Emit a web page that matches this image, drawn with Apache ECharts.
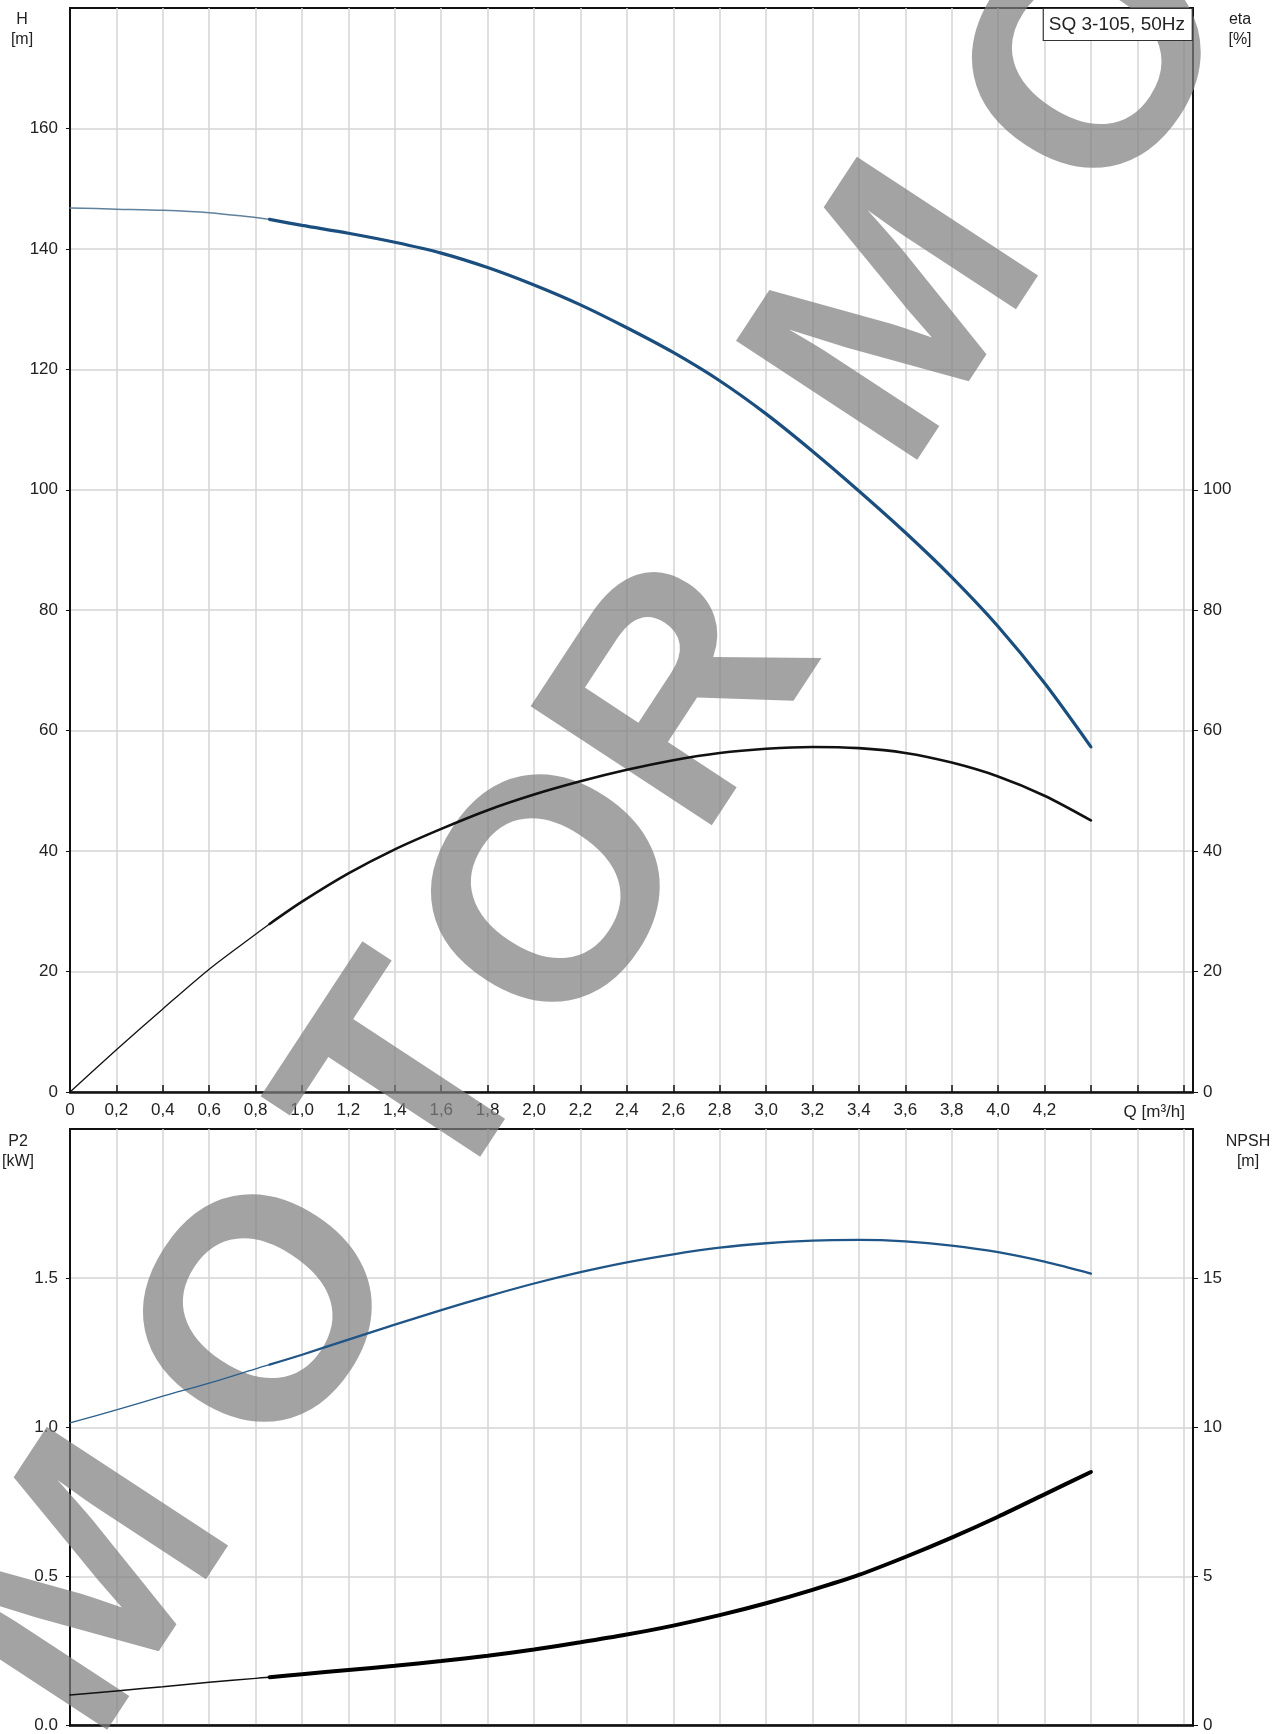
<!DOCTYPE html>
<html><head><meta charset="utf-8">
<script src="https://cdn.jsdelivr.net/npm/echarts@6/dist/echarts.min.js"></script>
<style>html,body{margin:0;padding:0;background:#fff}#c{width:1288px;height:1734px}</style>
</head><body><div id="c"></div>
<script>
// Flow rate Q [m3/h]
const flowQ  = [0, 0.2, 0.4, 0.6, 0.8, 0.86, 1.0, 1.2, 1.4, 1.6, 1.8, 2.0, 2.2, 2.4, 2.6, 2.8, 3.0, 3.2, 3.4, 3.6, 3.8, 4.0, 4.2, 4.4];
// Head H [m]
const headH  = [146.8, 146.6, 146.4, 146.0, 145.2, 144.9, 143.9, 142.6, 141.1, 139.3, 136.9, 134.0, 130.7, 126.9, 122.8, 118.1, 112.6, 106.4, 99.8, 92.9, 85.5, 77.3, 67.9, 57.3];
// Efficiency eta [%]
const effEta = [0, 7.0, 13.8, 20.4, 26.2, 27.9, 31.6, 36.3, 40.3, 43.7, 46.8, 49.4, 51.6, 53.5, 55.1, 56.3, 57.0, 57.3, 57.1, 56.3, 54.7, 52.4, 49.2, 45.1];
// Power P2 [kW]
const powerP2 = [1.015, 1.058, 1.104, 1.148, 1.196, 1.21, 1.243, 1.294, 1.344, 1.393, 1.439, 1.482, 1.52, 1.553, 1.58, 1.602, 1.617, 1.626, 1.628, 1.623, 1.609, 1.587, 1.555, 1.515];
// NPSH [m]
const npshM  = [1.02, 1.16, 1.3, 1.45, 1.58, 1.62, 1.72, 1.86, 2.0, 2.16, 2.34, 2.55, 2.79, 3.05, 3.35, 3.7, 4.1, 4.55, 5.05, 5.65, 6.3, 7.0, 7.75, 8.5];
// start of the recommended duty range (thick part of curves)
const splitQ = 0.86;
// axis tick labels
const hTicks   = [0, 20, 40, 60, 80, 100, 120, 140, 160];
const etaTicks = [0, 20, 40, 60, 80, 100];
const p2Ticks  = [0, 0.5, 1.0, 1.5];
const npshTicks = [0, 5, 10, 15];
const modelName = 'SQ 3-105, 50Hz';
// watermark text
const watermarkLetters = ['M', 'O', 'T', 'O', 'R', 'M', 'O'];

const FONT = '"Liberation Sans", Arial, sans-serif';
const TXT = '#222';
const GRIDC = '#d5d5d5';

function part(ys, which) {
  return flowQ.map((q, i) => [q, ys[i]]).filter(p => which === 'thin' ? p[0] <= splitQ : p[0] >= splitQ);
}
function lineSeries(name, ys, which, xi, yi, color, width) {
  return {
    name: name, type: 'line', xAxisIndex: xi, yAxisIndex: yi, data: part(ys, which),
    smooth: 0.3, showSymbol: false, symbol: 'none', z: 5,
    lineStyle: { color: color, width: width, cap: 'round' }
  };
}

const chart = echarts.init(document.getElementById('c'));
const xLabelFmt = v => (v > 4.3 ? '' : (v === 0 ? '0' : v.toFixed(1).replace('.', ',')));

// watermark letter placement (page decoration, not data)
const wmPos = [[95, 1590], [276, 1320], [420, 1090], [564, 900], [690, 700], [905, 320], [1105, 66]];
const watermark = watermarkLetters.map((ch, i) => ({
  type: 'text', x: wmPos[i][0], y: wmPos[i][1], rotation: 0.99, z: 1, silent: true,
  style: { text: ch, fontSize: 315, fontWeight: 'bold', fontFamily: FONT, fill: 'rgba(128,128,128,0.72)', align: 'center', verticalAlign: 'middle' }
}));

const option = {
  animation: false,
  backgroundColor: '#fff',
  textStyle: { fontFamily: FONT },
  title: {
    text: modelName, right: 95, top: 8,
    borderColor: '#333', borderWidth: 1.2, padding: [7, 8, 7, 6], backgroundColor: '#fff',
    textStyle: { fontFamily: FONT, fontSize: 19, fontWeight: 'normal', color: TXT }
  },
  grid: [
    { left: 70, right: 95, top: 8, height: 1084, show: true, borderColor: '#111', borderWidth: 2, backgroundColor: 'transparent' },
    { left: 70, right: 95, top: 1129, height: 599, show: true, borderColor: '#111', borderWidth: 2, backgroundColor: 'transparent' }
  ],
  xAxis: [
    {
      gridIndex: 0, type: 'value', min: 0, max: 4.84, interval: 0.2,
      name: 'Q [m³/h]', nameLocation: 'end', nameGap: -8,
      nameTextStyle: { fontFamily: FONT, fontSize: 17, color: TXT, align: 'right', verticalAlign: 'top', padding: [12, 0, 0, 0] },
      axisLine: { onZero: false, lineStyle: { color: '#111', width: 2.5 } },
      axisTick: { inside: true, length: 7, lineStyle: { color: '#111', width: 1.5 } },
      axisLabel: { formatter: xLabelFmt, fontSize: 17, color: TXT, margin: 10, fontFamily: FONT, showMaxLabel: false },
      splitLine: { show: true, lineStyle: { color: GRIDC, width: 1.5 } }
    },
    {
      gridIndex: 1, type: 'value', min: 0, max: 4.84, interval: 0.2,
      axisLine: { onZero: false, lineStyle: { color: '#111', width: 2.5 } },
      axisTick: { show: false },
      axisLabel: { show: false },
      splitLine: { show: true, lineStyle: { color: GRIDC, width: 1.5 } }
    }
  ],
  yAxis: [
    {
      gridIndex: 0, type: 'value', position: 'left', min: 0, max: 180, interval: 20,
      axisLine: { show: true, lineStyle: { color: '#111', width: 2 } },
      axisTick: { show: true, length: 4, lineStyle: { color: '#111' }, customValues: hTicks },
      axisLabel: { fontSize: 17, color: TXT, margin: 12, fontFamily: FONT, customValues: hTicks, formatter: v => (v > 160 ? '' : String(v)) },
      splitLine: { show: true, lineStyle: { color: GRIDC, width: 1.5 } }
    },
    {
      gridIndex: 0, type: 'value', position: 'right', min: 0, max: 180, interval: 20,
      axisLine: { show: true, lineStyle: { color: '#111', width: 2 } },
      axisTick: { show: true, length: 5, lineStyle: { color: '#111' }, customValues: etaTicks },
      axisLabel: { fontSize: 17, color: TXT, margin: 10, fontFamily: FONT, customValues: etaTicks, formatter: v => (v > 100 ? '' : String(v)) },
      splitLine: { show: false }
    },
    {
      gridIndex: 1, type: 'value', position: 'left', min: 0, max: 2.0, interval: 0.5,
      axisLine: { show: true, lineStyle: { color: '#111', width: 2 } },
      axisTick: { show: true, length: 4, lineStyle: { color: '#111' }, customValues: p2Ticks },
      axisLabel: { fontSize: 17, color: TXT, margin: 12, fontFamily: FONT, customValues: p2Ticks, formatter: v => (v > 1.6 ? '' : v.toFixed(1)) },
      splitLine: { show: true, lineStyle: { color: GRIDC, width: 1.5 } }
    },
    {
      gridIndex: 1, type: 'value', position: 'right', min: 0, max: 20, interval: 5,
      axisLine: { show: true, lineStyle: { color: '#111', width: 2 } },
      axisTick: { show: true, length: 5, lineStyle: { color: '#111' }, customValues: npshTicks },
      axisLabel: { fontSize: 17, color: TXT, margin: 10, fontFamily: FONT, customValues: npshTicks, formatter: v => (v > 16 ? '' : String(v)) },
      splitLine: { show: false }
    }
  ],
  graphic: watermark.concat([
    { type: 'text', x: 22, y: 10, z: 10, style: { text: 'H\n[m]', fontSize: 16, lineHeight: 20, fontFamily: FONT, fill: TXT, align: 'center' } },
    { type: 'text', x: 1240, y: 10, z: 10, style: { text: 'eta\n[%]', fontSize: 16, lineHeight: 20, fontFamily: FONT, fill: TXT, align: 'center' } },
    { type: 'text', x: 18, y: 1132, z: 10, style: { text: 'P2\n[kW]', fontSize: 16, lineHeight: 20, fontFamily: FONT, fill: TXT, align: 'center' } },
    { type: 'text', x: 1248, y: 1132, z: 10, style: { text: 'NPSH\n[m]', fontSize: 16, lineHeight: 20, fontFamily: FONT, fill: TXT, align: 'center' } }
  ]),
  series: [
    lineSeries('H thin', headH, 'thin', 0, 0, '#5f819c', 1.5),
    lineSeries('H', headH, 'thick', 0, 0, '#1a4e7e', 3.2),
    lineSeries('eta thin', effEta, 'thin', 0, 1, '#111', 1.3),
    lineSeries('eta', effEta, 'thick', 0, 1, '#111', 2.6),
    lineSeries('P2 thin', powerP2, 'thin', 1, 2, '#2a5f8c', 1.3),
    lineSeries('P2', powerP2, 'thick', 1, 2, '#1f5587', 2.3),
    lineSeries('NPSH thin', npshM, 'thin', 1, 3, '#111', 1.5),
    lineSeries('NPSH', npshM, 'thick', 1, 3, '#000', 4)
  ]
};
chart.setOption(option);
</script>
</body></html>
